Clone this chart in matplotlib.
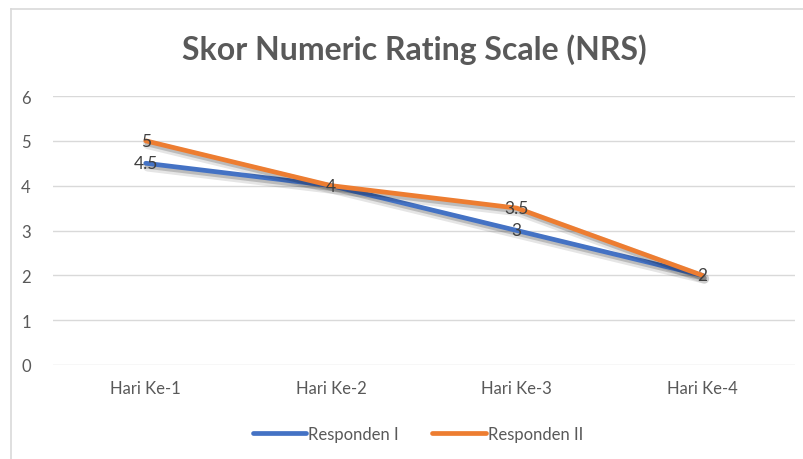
import matplotlib
matplotlib.use("Agg")
import matplotlib.pyplot as plt
import matplotlib.patheffects as pe
from matplotlib.lines import Line2D

categories = ["Hari Ke-1", "Hari Ke-2", "Hari Ke-3", "Hari Ke-4"]
responden_1 = [4.5, 4, 3, 2]
responden_2 = [5, 4, 3.5, 2]
labels_1 = ["4.5", "4", "3", "2"]
labels_2 = ["5", "4", "3.5", "2"]
series_names = ["Responden I", "Responden II"]
title = "Skor Numeric Rating Scale (NRS)"

plt.rcParams['font.family'] = ['Lato', 'DejaVu Sans']

W, H = 804, 460
fig = plt.figure(figsize=(W / 100, H / 100), dpi=100)
fig.patch.set_facecolor("white")

# chart border (top and left visible)
fig.add_artist(Line2D([11 / W, 11 / W], [0, 1 - 10 / H], transform=fig.transFigure,
                      color="#d9d9d9", lw=1.2))
fig.add_artist(Line2D([11 / W, 1], [1 - 10 / H, 1 - 10 / H], transform=fig.transFigure,
                      color="#d9d9d9", lw=1.2))

left, right = 53 / W, 795 / W
bottom, top = 1 - 366 / H, 1 - 97 / H
ax = fig.add_axes([left, bottom, right - left, top - bottom])

x = list(range(len(categories)))
shadow = [pe.SimpleLineShadow(offset=(1.5, -2.5), shadow_color="black", alpha=0.10, linewidth=7),
          pe.SimpleLineShadow(offset=(1.2, -2), shadow_color="black", alpha=0.18, linewidth=4),
          pe.Normal()]
l1, = ax.plot(x, responden_1, color="#4472C4", lw=3.4, solid_capstyle="round",
              path_effects=shadow, label=series_names[0], zorder=3)
l2, = ax.plot(x, responden_2, color="#ED7D31", lw=3.4, solid_capstyle="round",
              path_effects=shadow, label=series_names[1], zorder=4)

for xi, yi, t in zip(x, responden_1, labels_1):
    ax.text(xi, yi, t, ha="center", va="center", fontsize=12.5, color="#404040", zorder=5)
for xi, yi, t in zip(x, responden_2, labels_2):
    if t in ("4", "2"):
        continue
    ax.text(xi, yi, t, ha="center", va="center", fontsize=12.5, color="#404040", zorder=5)

ax.set_xlim(-0.5, len(categories) - 0.5)
ax.set_ylim(0, 6)
ax.set_yticks(range(0, 7))
ax.set_xticks(x)
ax.set_xticklabels(categories)
ax.grid(axis="y", color="#d9d9d9", lw=1)
ax.set_axisbelow(True)
for s in ax.spines.values():
    s.set_visible(False)
ax.tick_params(axis="both", length=0, colors="#595959", labelsize=12)
ax.tick_params(axis="y", pad=16)
ax.tick_params(axis="x", pad=11)

fig.text(414 / W, 1 - 50 / H, title, ha="center", va="center",
         fontsize=23, fontweight="bold", color="#595959")

leg = fig.legend(handles=[l1, l2], loc="center", bbox_to_anchor=(418 / W, 1 - 435 / H),
                 ncol=2, frameon=False, fontsize=12, handlelength=3.2, handletextpad=0.15,
                 columnspacing=2.0)
for t in leg.get_texts():
    t.set_color("#595959")
for h in leg.get_lines():
    h.set_path_effects([pe.Normal()])

fig.savefig("out.png", dpi=100, facecolor="white")
